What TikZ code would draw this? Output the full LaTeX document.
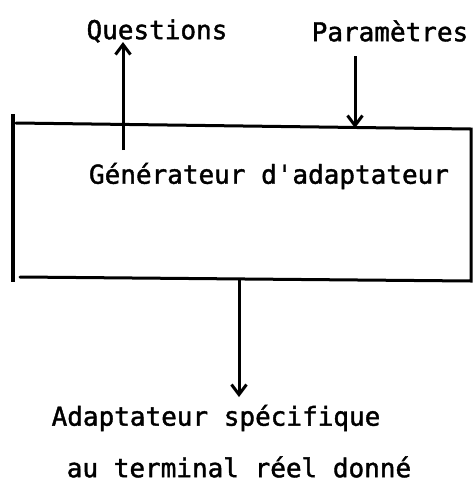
\documentclass[tikz,border=0pt]{standalone}
\usepackage{fontspec}
\newfontfamily\twfont{DejaVu Sans Mono}[FakeBold=1.5]
\usetikzlibrary{arrows.meta}
\begin{document}
\begin{tikzpicture}[x=1pt,y=-1pt,
  lbl/.style={font=\twfont\fontsize{26}{30}\selectfont, inner sep=0pt, anchor=center},
  edge/.style={line width=3pt, line cap=round},
  arr/.style={line width=3pt, -{Straight Barb[length=10pt,width=15pt,line width=3pt]}}]
\useasboundingbox (0,0) rectangle (473,483);
% box corners
\coordinate (tl) at (16,123);
\coordinate (tr) at (471,129);
\coordinate (br) at (471,281);
\coordinate (bl) at (20,277);
\coordinate (lt) at (13,114);
\coordinate (lb) at (13,282);
\draw[edge] (tl) -- (tr) -- (br) -- (bl);
\draw[line width=3.5pt] (lt) -- (lb);
% labels
\node[lbl] (gen) at (269,176) {Générateur d'adaptateur};
\node[lbl] (q) at (157,31) {Questions};
\node[lbl] (p) at (390,31) {Paramètres};
\node[lbl] (a1) at (216,418) {Adaptateur spécifique};
\node[lbl] (a2) at (239,467) {au terminal réel donné};
% arrows
\coordinate (qs) at (123,150);
\coordinate (qe) at (123,42);
\coordinate (ps) at (355,56);
\coordinate (pe) at (355,128);
\coordinate (os) at (239,280);
\coordinate (oe) at (239,397);
\draw[arr] (qs) -- (qe);
\draw[arr] (ps) -- (pe);
\draw[arr] (os) -- (oe);
\end{tikzpicture}
\end{document}
